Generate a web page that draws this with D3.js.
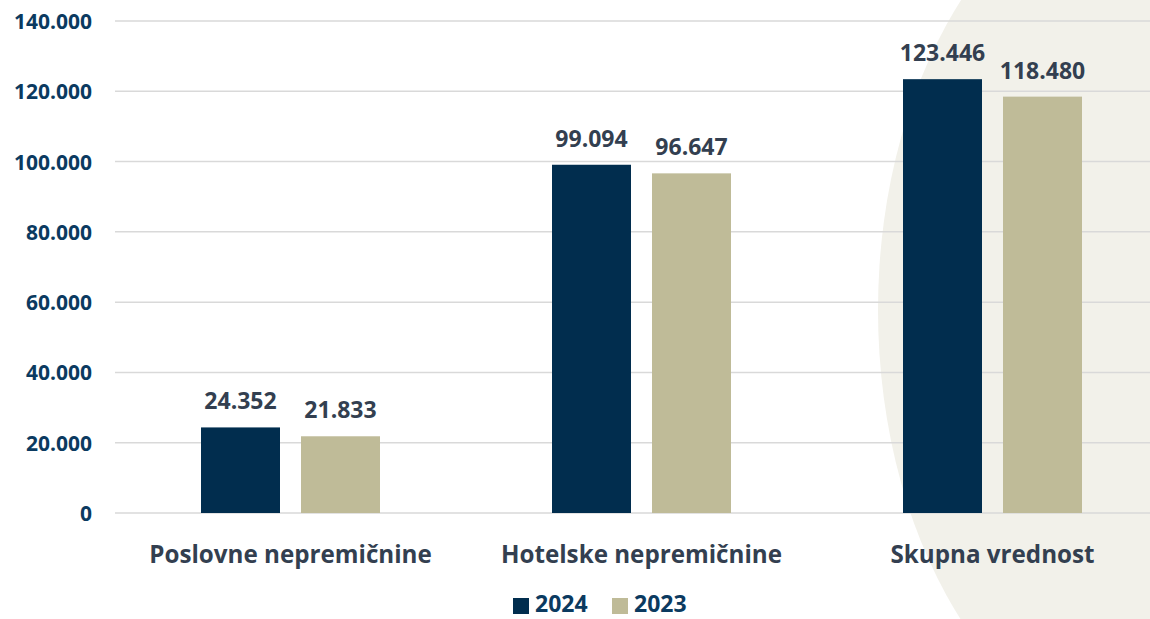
<!DOCTYPE html>
<html><head><meta charset="utf-8">
<script src="https://cdn.jsdelivr.net/npm/d3@7"></script>
<style>
html,body{margin:0;padding:0;background:#fff;}
svg{display:block;font-family:"Open Sans",sans-serif;}
</style></head>
<body>
<svg id="chart" width="1150" height="619"></svg>
<script>
const categories = ["Poslovne nepremičnine", "Hotelske nepremičnine", "Skupna vrednost"];
const seriesNames = ["2024", "2023"];
const values2024 = [24352, 99094, 123446];
const values2023 = [21833, 96647, 118480];
const yTicks = [0, 20000, 40000, 60000, 80000, 100000, 120000, 140000];
const colors = ["#012d4e", "#bfbb98"];

const svg = d3.select("#chart");
const W = 1150, H = 619;

// background decoration
svg.append("ellipse").attr("cx", 1180).attr("cy", 310).attr("rx", 302).attr("ry", 450).attr("fill", "#f2f1ea");

const x = d3.scaleBand().domain(categories).range([115, 1168]).paddingInner(0).paddingOuter(0);
const y = d3.scaleLinear().domain([0, 140000]).range([513, 21]);

const fmt = v => d3.format(",")(v).replace(/,/g, ".");

// grid
svg.append("g").selectAll("line").data(yTicks).join("line")
  .attr("x1", 115).attr("x2", W).attr("y1", d => y(d)).attr("y2", d => y(d))
  .attr("stroke", "#d9d9d9").attr("stroke-width", 1.5);

// y axis labels
const yAxis = d3.axisLeft(y).tickValues(yTicks).tickSize(0).tickPadding(0).tickFormat(fmt);
const ya = svg.append("g").attr("transform", "translate(92,0)").call(yAxis);
ya.select(".domain").remove();
ya.selectAll("text").attr("font-family", "Open Sans").attr("font-weight", 700).attr("font-size", 21).attr("fill", "#0b3a60").attr("dy", "0.36em");

// bars
const innerW = 179, barW = 79, gap = 21;
const data = categories.map((c, i) => ({c, vals: [values2024[i], values2023[i]]}));
const groups = svg.append("g").selectAll("g").data(data).join("g")
  .attr("transform", d => `translate(${x(d.c) + (x.bandwidth() - innerW) / 2},0)`);
groups.selectAll("rect").data(d => d.vals.map((v, j) => ({v, j}))).join("rect")
  .attr("x", d => d.j * (barW + gap)).attr("width", barW)
  .attr("y", d => y(d.v)).attr("height", d => y(0) - y(d.v))
  .attr("fill", d => colors[d.j]);
groups.selectAll("text").data(d => d.vals.map((v, j) => ({v, j}))).join("text")
  .attr("x", d => d.j * (barW + gap) + barW / 2).attr("y", d => y(d.v) - 18)
  .attr("text-anchor", "middle").attr("font-weight", 700).attr("font-size", 23)
  .attr("fill", "#333f50").text(d => fmt(d.v));

// category labels
const xAxis = d3.axisBottom(x).tickSize(0).tickPadding(0);
const xa = svg.append("g").attr("transform", "translate(0,513)").call(xAxis);
xa.select(".domain").remove();
xa.selectAll("text").attr("font-family", "Open Sans").attr("font-weight", 700).attr("font-size", 24.2)
  .attr("fill", "#333f50").attr("dy", null).attr("y", 50);

// legend
const legendX = [513, 612];
const lg = svg.append("g").selectAll("g").data(seriesNames).join("g")
  .attr("transform", (d, i) => `translate(${legendX[i]},0)`);
lg.append("rect").attr("x", 0).attr("y", 598).attr("width", 16).attr("height", 16).attr("fill", (d, i) => colors[i]);
lg.append("text").attr("x", 22).attr("y", 612).attr("font-weight", 700).attr("font-size", 23)
  .attr("fill", "#0b3a60").text(d => d);
</script>
</body></html>
